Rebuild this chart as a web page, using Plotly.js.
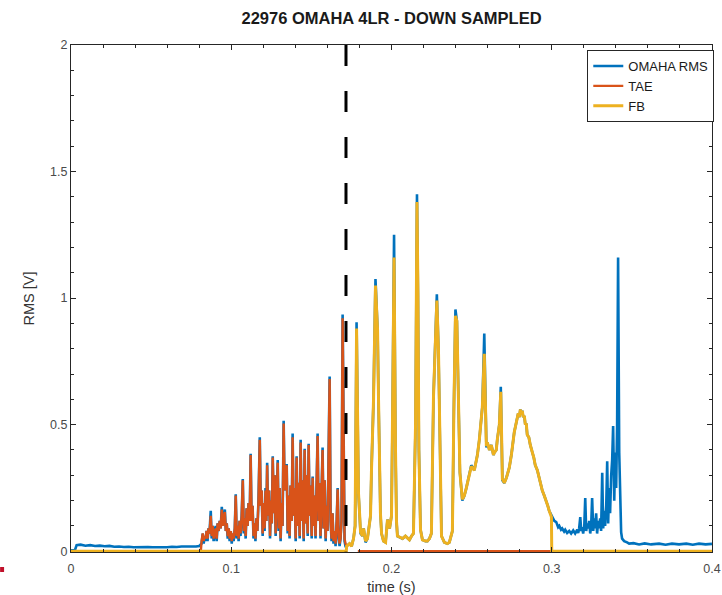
<!DOCTYPE html>
<html>
<head>
<meta charset="utf-8">
<script src="https://cdn.plot.ly/plotly-3.0.1.min.js"></script>
<style>html,body{margin:0;padding:0;background:#fff;}#chart{width:722px;height:595px;}</style>
</head>
<body>
<div id="chart"></div>
<script>
// ---------- DATA ----------
const chartTitle = '22976 OMAHA 4LR - DOWN SAMPLED';
const xLabel = 'time (s)';
const yLabel = 'RMS [V]';
const seriesNames = ['OMAHA RMS', 'TAE', 'FB'];
const markerTime = 0.1716;   // dashed vertical marker (s)

// OMAHA RMS (blue)
const rmsTime = [
 0, 0.0025, 0.0035, 0.0060, 0.0090, 0.0120, 0.0150, 0.0180, 0.0210, 0.0240, 0.0270, 0.0300, 0.0330, 0.0360, 0.0390, 0.0420, 0.0450, 0.0480, 0.0510, 0.0540, 0.0570, 0.0600, 0.0630, 0.0660, 0.0690, 0.0720, 0.0750, 0.0780, 0.0800,
 0.0815, 0.0822, 0.0828, 0.0834, 0.0840, 0.0846, 0.0852, 0.0858, 0.0864, 0.0872, 0.0878, 0.0884, 0.0890, 0.0897, 0.0903, 0.0909, 0.0915, 0.0921, 0.0928, 0.0934, 0.0941, 0.0947, 0.0954, 0.0960, 0.0966, 0.0972, 0.0978, 0.0984, 0.0990, 0.0997,
 0.1003, 0.1009, 0.1015, 0.1022, 0.1028, 0.1034, 0.1040, 0.1046, 0.1052, 0.1058, 0.1065, 0.1072, 0.1078, 0.1084, 0.1090, 0.1096, 0.1102, 0.1108, 0.1115, 0.1121, 0.1127, 0.1133, 0.1139, 0.1145, 0.1151, 0.1157, 0.1163, 0.1170, 0.1178, 0.1184, 0.1190, 0.1196,
 0.1202, 0.1208, 0.1214, 0.1219, 0.1224, 0.1230, 0.1236, 0.1242, 0.1248, 0.1253, 0.1259, 0.1265, 0.1271, 0.1277, 0.1284, 0.1290, 0.1296, 0.1302, 0.1308, 0.1314, 0.1320, 0.1327, 0.1333, 0.1340, 0.1346, 0.1352, 0.1358, 0.1364, 0.1370, 0.1377, 0.1383, 0.1389, 0.1395,
 0.1402, 0.1408, 0.1414, 0.1420, 0.1427, 0.1433, 0.1439, 0.1445, 0.1452, 0.1458, 0.1464, 0.1470, 0.1477, 0.1483, 0.1489, 0.1495, 0.1502, 0.1508, 0.1514, 0.1520, 0.1526, 0.1533, 0.1539, 0.1545, 0.1551, 0.1557, 0.1564, 0.1570, 0.1576, 0.1583, 0.1589, 0.1595,
 0.1601, 0.1607, 0.1614, 0.1620, 0.1626, 0.1632, 0.1638, 0.1645, 0.1651, 0.1658, 0.1664, 0.1670, 0.1676, 0.1682, 0.1688, 0.1695, 0.1701, 0.1707, 0.1713, 0.1719,
 0.1720, 0.1738, 0.1751, 0.1763, 0.1773, 0.1782, 0.1788, 0.1794, 0.1807, 0.1819, 0.1826, 0.1838, 0.1850, 0.1857, 0.1869, 0.1875, 0.1888, 0.1900, 0.1907, 0.1913, 0.1919, 0.1925, 0.1931, 0.1938, 0.1950, 0.1963, 0.1975, 0.1988,
 0.2000, 0.2006, 0.2016, 0.2025, 0.2031, 0.2037, 0.2050, 0.2069, 0.2087, 0.2100, 0.2112, 0.2125, 0.2137, 0.2150, 0.2159, 0.2165, 0.2171, 0.2181, 0.2193, 0.2212, 0.2224, 0.2237, 0.2249, 0.2262, 0.2274, 0.2283, 0.2293, 0.2299,
 0.2305, 0.2312, 0.2330, 0.2349, 0.2361, 0.2380, 0.2389, 0.2399, 0.2408, 0.2417, 0.2427, 0.2442, 0.2455, 0.2467, 0.2486, 0.2498, 0.2517, 0.2536, 0.2548, 0.2567, 0.2579, 0.2586, 0.2592, 0.2598, 0.2611, 0.2623, 0.2636, 0.2642, 0.2654, 0.2660, 0.2673, 0.2682, 0.2688, 0.2692,
 0.2704, 0.2717, 0.2735, 0.2748, 0.2766, 0.2785, 0.2791, 0.2798, 0.2804, 0.2810, 0.2816, 0.2822, 0.2829, 0.2835, 0.2841, 0.2847, 0.2857, 0.2866, 0.2872, 0.2879, 0.2888, 0.2897, 0.2910, 0.2922, 0.2931, 0.2941, 0.2953, 0.2966, 0.2975, 0.2984, 0.2998,
 0.3003, 0.3016, 0.3028, 0.3040, 0.3047, 0.3058, 0.3065, 0.3077, 0.3084, 0.3096, 0.3109, 0.3121, 0.3134, 0.3146, 0.3159, 0.3165, 0.3171, 0.3178, 0.3184, 0.3190, 0.3196, 0.3203, 0.3209, 0.3215, 0.3221, 0.3227, 0.3234, 0.3240, 0.3246, 0.3252, 0.3259, 0.3265,
 0.3271, 0.3277, 0.3283, 0.3290, 0.3296, 0.3302, 0.3308, 0.3315, 0.3321, 0.3327, 0.3333, 0.3340, 0.3346, 0.3352, 0.3358, 0.3364, 0.3371, 0.3377, 0.3383, 0.3390, 0.3396, 0.3402, 0.3408, 0.3414, 0.3421, 0.3427, 0.3433, 0.3439, 0.3452, 0.3470, 0.3483,
 0.3510, 0.3545, 0.3580, 0.3620, 0.3670, 0.3710, 0.3750, 0.3794, 0.3840, 0.3880, 0.3919, 0.3960, 0.4000
];
const rmsValue = [
 0.004, 0.005, 0.024, 0.026, 0.022, 0.024, 0.021, 0.022, 0.020, 0.021, 0.018, 0.019, 0.017, 0.018, 0.016, 0.017, 0.015, 0.017, 0.016, 0.015, 0.017, 0.016, 0.018, 0.017, 0.019, 0.018, 0.020, 0.019, 0.021,
 0.03, 0.07, 0.03, 0.06, 0.04, 0.08, 0.04, 0.09, 0.07, 0.16, 0.05, 0.10, 0.04, 0.08, 0.10, 0.04, 0.11, 0.08, 0.12, 0.09, 0.175, 0.10, 0.13, 0.165, 0.08, 0.11, 0.05, 0.09, 0.04, 0.08,
 0.03, 0.07, 0.04, 0.09, 0.225, 0.05, 0.10, 0.04, 0.12, 0.06, 0.14, 0.285, 0.07, 0.13, 0.05, 0.17, 0.10, 0.19, 0.12, 0.385, 0.12, 0.18, 0.05, 0.11, 0.04, 0.13, 0.08, 0.20, 0.45, 0.18, 0.24, 0.06,
 0.19, 0.08, 0.25, 0.12, 0.35, 0.14, 0.24, 0.05, 0.20, 0.11, 0.375, 0.15, 0.30, 0.06, 0.22, 0.36, 0.08, 0.25, 0.04, 0.19, 0.10, 0.515, 0.24, 0.31, 0.345, 0.07, 0.22, 0.05, 0.26, 0.12, 0.465, 0.14, 0.25,
 0.04, 0.375, 0.10, 0.27, 0.05, 0.44, 0.12, 0.28, 0.04, 0.405, 0.11, 0.30, 0.06, 0.425, 0.14, 0.26, 0.05, 0.295, 0.10, 0.22, 0.05, 0.30, 0.465, 0.12, 0.27, 0.05, 0.22, 0.41, 0.09, 0.28, 0.04, 0.18,
 0.08, 0.30, 0.69, 0.12, 0.04, 0.15, 0.03, 0.08, 0.02, 0.12, 0.25, 0.05, 0.02, 0.05, 0.12, 0.935, 0.35, 0.04, 0.02, 0.02,
 0.02, 0.03, 0.02, 0.05, 0.10, 0.905, 0.55, 0.23, 0.07, 0.06, 0.09, 0.035, 0.05, 0.09, 0.14, 0.32, 0.60, 1.075, 0.95, 0.875, 0.60, 0.335, 0.15, 0.07, 0.04, 0.035, 0.125, 0.09,
 0.14, 0.50, 1.25, 0.40, 0.12, 0.06, 0.055, 0.05, 0.06, 0.05, 0.045, 0.06, 0.07, 0.50, 1.41, 1.02, 0.40, 0.085, 0.045, 0.04, 0.04, 0.05, 0.07, 0.61, 0.86, 1.015, 0.80, 0.54,
 0.20, 0.06, 0.035, 0.03, 0.035, 0.08, 0.55, 0.955, 0.91, 0.60, 0.31, 0.20, 0.22, 0.25, 0.30, 0.34, 0.32, 0.38, 0.44, 0.57, 0.86, 0.50, 0.41, 0.43, 0.40, 0.42, 0.38, 0.39, 0.40, 0.44, 0.50, 0.65, 0.40, 0.28,
 0.27, 0.29, 0.33, 0.38, 0.47, 0.52, 0.545, 0.53, 0.56, 0.54, 0.555, 0.53, 0.535, 0.50, 0.505, 0.46, 0.45, 0.42, 0.41, 0.39, 0.37, 0.34, 0.32, 0.285, 0.27, 0.24, 0.22, 0.19, 0.18, 0.16, 0.14,
 0.14, 0.12, 0.115, 0.095, 0.10, 0.085, 0.09, 0.078, 0.085, 0.072, 0.08, 0.07, 0.082, 0.07, 0.085, 0.072, 0.09, 0.135, 0.08, 0.095, 0.07, 0.10, 0.21, 0.08, 0.11, 0.09, 0.12, 0.07, 0.10, 0.21, 0.08, 0.13,
 0.09, 0.15, 0.07, 0.12, 0.09, 0.13, 0.08, 0.31, 0.09, 0.16, 0.10, 0.18, 0.355, 0.11, 0.25, 0.15, 0.30, 0.36, 0.495, 0.20, 0.39, 0.25, 0.50, 1.16, 0.39, 0.20, 0.075, 0.05, 0.04, 0.035, 0.03,
 0.032, 0.027, 0.031, 0.027, 0.030, 0.026, 0.030, 0.027, 0.030, 0.026, 0.030, 0.027, 0.029
];

// TAE (orange)
const taeTime = [
 0, 0.0810,
 0.0815, 0.0822, 0.0828, 0.0834, 0.0840, 0.0846, 0.0852, 0.0858, 0.0864, 0.0872, 0.0878, 0.0884, 0.0890, 0.0897, 0.0903, 0.0909, 0.0915, 0.0921, 0.0928, 0.0934, 0.0941, 0.0947, 0.0954, 0.0960, 0.0966, 0.0972, 0.0978, 0.0984, 0.0990, 0.0997,
 0.1003, 0.1009, 0.1015, 0.1022, 0.1028, 0.1034, 0.1040, 0.1046, 0.1052, 0.1058, 0.1065, 0.1072, 0.1078, 0.1084, 0.1090, 0.1096, 0.1102, 0.1108, 0.1115, 0.1121, 0.1127, 0.1133, 0.1139, 0.1145, 0.1151, 0.1157, 0.1163, 0.1170, 0.1178, 0.1184, 0.1190, 0.1196,
 0.1202, 0.1208, 0.1214, 0.1219, 0.1224, 0.1230, 0.1236, 0.1242, 0.1248, 0.1253, 0.1259, 0.1265, 0.1271, 0.1277, 0.1284, 0.1290, 0.1296, 0.1302, 0.1308, 0.1314, 0.1320, 0.1327, 0.1333, 0.1340, 0.1346, 0.1352, 0.1358, 0.1364, 0.1370, 0.1377, 0.1383, 0.1389, 0.1395,
 0.1402, 0.1408, 0.1414, 0.1420, 0.1427, 0.1433, 0.1439, 0.1445, 0.1452, 0.1458, 0.1464, 0.1470, 0.1477, 0.1483, 0.1489, 0.1495, 0.1502, 0.1508, 0.1514, 0.1520, 0.1526, 0.1533, 0.1539, 0.1545, 0.1551, 0.1557, 0.1564, 0.1570, 0.1576, 0.1583, 0.1589, 0.1595,
 0.1601, 0.1607, 0.1614, 0.1620, 0.1626, 0.1632, 0.1638, 0.1645, 0.1651, 0.1658, 0.1664, 0.1670, 0.1676, 0.1682, 0.1688, 0.1695, 0.1701, 0.1707, 0.1713, 0.1719,
 0.1722, 0.1790, 0.4000
];
const taeValue = [
 0, 0,
 0.04, 0.07, 0.04, 0.06, 0.05, 0.08, 0.05, 0.09, 0.07, 0.14, 0.06, 0.10, 0.05, 0.08, 0.09, 0.05, 0.11, 0.08, 0.12, 0.09, 0.165, 0.10, 0.13, 0.155, 0.08, 0.11, 0.06, 0.09, 0.05, 0.08,
 0.04, 0.07, 0.05, 0.09, 0.22, 0.06, 0.10, 0.05, 0.12, 0.07, 0.14, 0.28, 0.08, 0.13, 0.06, 0.17, 0.10, 0.19, 0.12, 0.38, 0.12, 0.18, 0.06, 0.11, 0.05, 0.13, 0.08, 0.20, 0.44, 0.18, 0.24, 0.07,
 0.19, 0.09, 0.24, 0.12, 0.34, 0.14, 0.24, 0.06, 0.20, 0.11, 0.37, 0.15, 0.30, 0.07, 0.22, 0.35, 0.09, 0.25, 0.05, 0.19, 0.10, 0.505, 0.24, 0.31, 0.34, 0.08, 0.22, 0.06, 0.26, 0.12, 0.45, 0.14, 0.25,
 0.05, 0.37, 0.10, 0.27, 0.06, 0.43, 0.12, 0.28, 0.05, 0.40, 0.11, 0.30, 0.07, 0.42, 0.14, 0.26, 0.06, 0.29, 0.10, 0.22, 0.06, 0.30, 0.455, 0.12, 0.27, 0.06, 0.22, 0.40, 0.09, 0.28, 0.05, 0.18,
 0.08, 0.30, 0.68, 0.12, 0.05, 0.15, 0.04, 0.08, 0.03, 0.12, 0.245, 0.06, 0.03, 0.05, 0.12, 0.92, 0.35, 0.05, 0.03, 0.02,
 null, 0, 0
];

// FB (yellow)
const fbTime = [
 0, 0.1718,
 0.1720, 0.1738, 0.1751, 0.1763, 0.1773, 0.1782, 0.1788, 0.1794, 0.1807, 0.1819, 0.1826, 0.1838, 0.1850, 0.1857, 0.1869, 0.1875, 0.1888, 0.1900, 0.1907, 0.1913, 0.1919, 0.1925, 0.1931, 0.1938, 0.1950, 0.1963, 0.1975, 0.1988,
 0.2000, 0.2006, 0.2016, 0.2025, 0.2031, 0.2037, 0.2050, 0.2069, 0.2087, 0.2100, 0.2112, 0.2125, 0.2137, 0.2150, 0.2159, 0.2165, 0.2171, 0.2181, 0.2193, 0.2212, 0.2224, 0.2237, 0.2249, 0.2262, 0.2274, 0.2283, 0.2293, 0.2299,
 0.2305, 0.2312, 0.2330, 0.2349, 0.2361, 0.2380, 0.2389, 0.2399, 0.2408, 0.2417, 0.2427, 0.2442, 0.2455, 0.2467, 0.2486, 0.2498, 0.2517, 0.2536, 0.2548, 0.2567, 0.2579, 0.2586, 0.2592, 0.2598, 0.2611, 0.2623, 0.2636, 0.2642, 0.2654, 0.2660, 0.2673, 0.2682, 0.2688, 0.2692,
 0.2704, 0.2717, 0.2735, 0.2748, 0.2766, 0.2785, 0.2791, 0.2798, 0.2804, 0.2810, 0.2816, 0.2822, 0.2829, 0.2835, 0.2841, 0.2847, 0.2857, 0.2866, 0.2872, 0.2879, 0.2888, 0.2897, 0.2910, 0.2922, 0.2931, 0.2941, 0.2953, 0.2966, 0.2975, 0.2984, 0.2998,
 0.3000, 0.4000
];
const fbValue = [
 0, 0,
 0.02, 0.03, 0.02, 0.05, 0.10, 0.88, 0.55, 0.23, 0.075, 0.06, 0.09, 0.04, 0.05, 0.09, 0.14, 0.32, 0.60, 1.05, 0.95, 0.875, 0.60, 0.335, 0.15, 0.07, 0.04, 0.035, 0.125, 0.09,
 0.14, 0.50, 1.16, 0.40, 0.12, 0.06, 0.055, 0.05, 0.06, 0.05, 0.045, 0.06, 0.07, 0.50, 1.38, 1.02, 0.40, 0.085, 0.045, 0.04, 0.04, 0.05, 0.07, 0.61, 0.86, 0.99, 0.80, 0.54,
 0.20, 0.06, 0.035, 0.03, 0.035, 0.08, 0.55, 0.93, 0.91, 0.60, 0.31, 0.205, 0.22, 0.25, 0.30, 0.335, 0.32, 0.38, 0.44, 0.57, 0.78, 0.50, 0.415, 0.43, 0.40, 0.42, 0.38, 0.39, 0.40, 0.44, 0.50, 0.63, 0.40, 0.285,
 0.27, 0.29, 0.33, 0.38, 0.47, 0.52, 0.545, 0.53, 0.56, 0.54, 0.555, 0.53, 0.535, 0.50, 0.505, 0.46, 0.45, 0.42, 0.41, 0.39, 0.37, 0.34, 0.32, 0.285, 0.27, 0.24, 0.22, 0.19, 0.18, 0.16, 0.135,
 0, 0
];

// ---------- STYLE ----------
const axisColor = '#262626';
const tickFontColor = '#4a4a4a';
const fontFamily = '"Liberation Sans", Arial, Helvetica, sans-serif';

const traces = [
  {x: rmsTime, y: rmsValue, name: seriesNames[0], type: 'scatter', mode: 'lines',
   line: {color: '#0072BD', width: 2.6}},
  {x: taeTime, y: taeValue, name: seriesNames[1], type: 'scatter', mode: 'lines', connectgaps: false,
   line: {color: '#D95319', width: 2.4}},
  {x: fbTime, y: fbValue, name: seriesNames[2], type: 'scatter', mode: 'lines',
   line: {color: '#EDB120', width: 3}}
];

const axisCommon = {
  ticks: 'inside', ticklen: 5, tickwidth: 1, tickcolor: axisColor,
  showline: true, linecolor: axisColor, linewidth: 1, mirror: 'allticks',
  showgrid: false, zeroline: false,
  tickfont: {size: 12.5, color: tickFontColor, family: fontFamily}
};

const layout = {
  width: 722, height: 595,
  margin: {l: 71, r: 9, t: 45, b: 43},
  paper_bgcolor: '#ffffff', plot_bgcolor: '#ffffff',
  font: {family: fontFamily, color: axisColor, size: 12},
  showlegend: true,
  title: {text: '<b>' + chartTitle + '</b>', x: 0.5, xref: 'paper', xanchor: 'center',
          y: 1 - 18/595, yref: 'container', yanchor: 'middle',
          font: {size: 16.5, color: '#1a1a1a', family: fontFamily}},
  xaxis: Object.assign({}, axisCommon, {
    range: [0, 0.4], tick0: 0, dtick: 0.1, ticklabelstandoff: 5,
    minor: {dtick: 0.02, ticks: 'inside', ticklen: 3, tickcolor: axisColor, showgrid: false},
    title: {text: xLabel, standoff: 8, font: {size: 14.5, color: '#333333', family: fontFamily}}
  }),
  yaxis: Object.assign({}, axisCommon, {
    range: [-0.003, 2], tick0: 0, dtick: 0.5,
    minor: {dtick: 0.1, ticks: 'inside', ticklen: 3, tickcolor: axisColor, showgrid: false}
  }),
  legend: {x: 1.002, xanchor: 'right', y: 0.99, yanchor: 'top',
           bgcolor: '#ffffff', bordercolor: axisColor, borderwidth: 1,
           font: {size: 13, color: '#1a1a1a', family: fontFamily},
           tracegroupgap: 0, itemwidth: 30},
  annotations: [
    {text: yLabel, xref: 'paper', yref: 'paper', x: -0.067, y: 0.5, xanchor: 'center', yanchor: 'middle',
     textangle: -90, showarrow: false, font: {size: 14.5, color: '#333333', family: fontFamily}}
  ],
  shapes: [
    {type: 'line', xref: 'x', yref: 'y', x0: markerTime, x1: markerTime, y0: 2, y1: 0,
     line: {color: '#000000', width: 3, dash: '21px,25px'}},
    {type: 'rect', xref: 'paper', yref: 'paper', x0: -0.1106, x1: -0.1044, y0: -0.0394, y1: -0.0296,
     line: {width: 0}, fillcolor: '#c0102a'}
  ]
};

Plotly.newPlot('chart', traces, layout, {displayModeBar: false, staticPlot: true});
</script>
</body>
</html>
